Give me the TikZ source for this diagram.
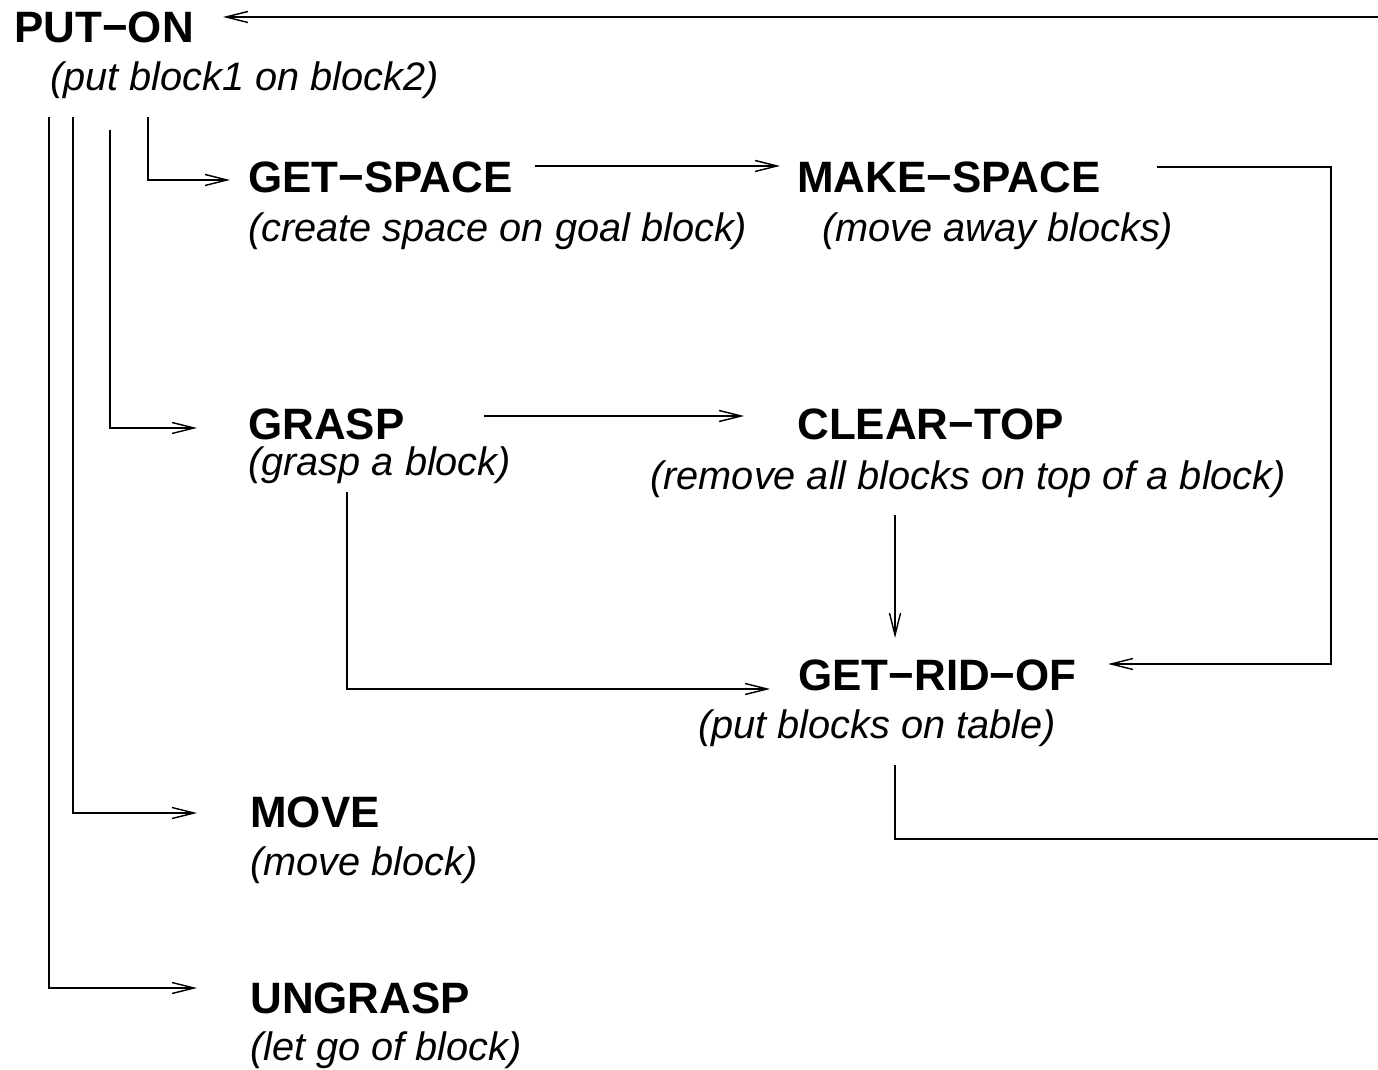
\documentclass[tikz,border=0pt]{standalone}
\usepackage{fontspec}
\setmainfont{Liberation Sans}
\usetikzlibrary{arrows.meta,calc}

\begin{document}
\begin{tikzpicture}[x=0.02cm,y=-0.02cm,
  every node/.style={inner sep=0pt,anchor=base west},
  proc/.style={font=\fontsize{25}{30}\selectfont\bfseries},
  note/.style={font=\fontsize{22.6}{27}\selectfont\itshape},
  link/.style={line width=0.8pt},
  flow/.style={link,-{Straight Barb[length=0.44cm,width=0.22cm]}}]
\useasboundingbox (0,0) rectangle (1378,1070);
% procedures and what they do
\node[proc] (puton) at (14,43) {PUT−ON};
\node[note] (putondesc) at (50,91) {(put block1 on block2)};
\node[proc] (getspace) at (248,193) {GET−SPACE};
\node[note] (getspacedesc) at (248,242) {(create space on goal block)};
\node[proc] (makespace) at (797,193) {MAKE−SPACE};
\node[note] (makespacedesc) at (822,242) {(move away blocks)};
\node[proc] (grasp) at (248,440) {GRASP};
\node[note] (graspdesc) at (248,476) {(grasp a block)};
\node[proc] (cleartop) at (797,440) {CLEAR−TOP};
\node[note] (cleartopdesc) at (650,490) {(remove all blocks on top of a block)};
\node[proc] (getridof) at (798,690) {GET−RID−OF};
\node[note] (getridofdesc) at (698,738) {(put blocks on table)};
\node[proc] (move) at (250,827) {MOVE};
\node[note] (movedesc) at (250,875) {(move block)};
\node[proc] (ungrasp) at (250,1013) {UNGRASP};
\node[note] (ungraspdesc) at (250,1060) {(let go of block)};
% loose ends at the right margin
\coordinate (retin) at (1378,17);
\coordinate (retout) at (1378,839);
% calls from PUT-ON
\draw[flow] ($(putondesc.base west)+(98,26)$) |- ($(getspace.base west)+(-18,-13)$);
\draw[flow] ($(putondesc.base west)+(60,39)$) |- ($(grasp.base west)+(-51,-12)$);
\draw[flow] ($(putondesc.base west)+(23,26)$) |- ($(move.base west)+(-53,-14)$);
\draw[flow] ($(putondesc.base west)+(-1,26)$) |- ($(ungrasp.base west)+(-53,-25)$);
% the other calls
\draw[flow] ($(getspace.base west)+(287,-27)$) -- ($(makespace.base west)+(-17,-27)$);
\draw[flow] ($(makespace.base west)+(360,-26)$) -- ++(174,0) |- ($(getridof.base west)+(310,-26)$);
\draw[flow] ($(grasp.base west)+(236,-24)$) -- ($(cleartop.base west)+(-53,-24)$);
\draw[flow] ($(cleartopdesc.base west)+(245,25)$) -- ($(getridof.base west)+(97,-52)$);
\draw[flow] ($(graspdesc.base west)+(99,16)$) |- ($(getridof.base west)+(-28,-1)$);
\draw[link] ($(getridofdesc.base west)+(197,27)$) |- (retout);
\draw[flow] (retin) -- ($(puton.base west)+(209,-26)$);
\end{tikzpicture}
\end{document}
